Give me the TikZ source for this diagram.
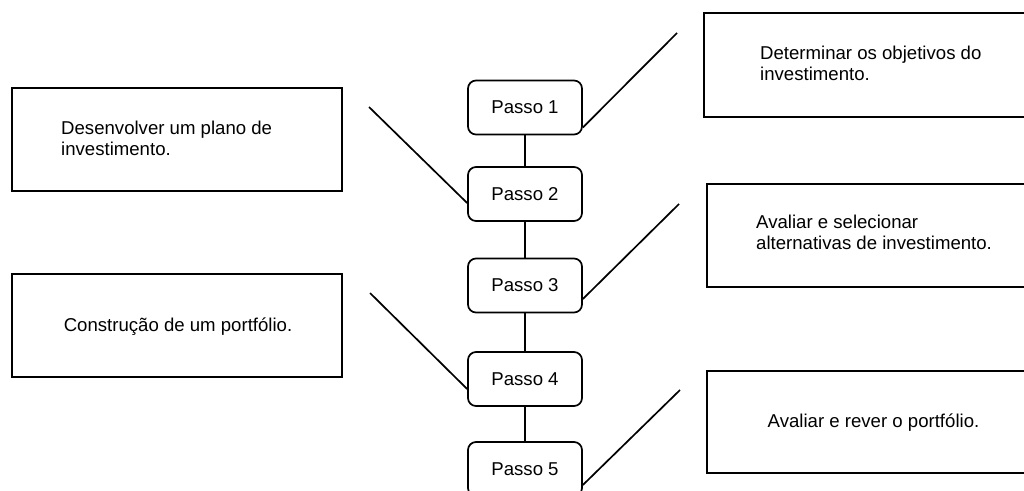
\documentclass[tikz,border=0pt]{standalone}
\usepackage{fontspec}
\setmainfont{Liberation Sans}
\usetikzlibrary{calc}
\tikzset{
  stepbox/.style={draw=black, line width=1.7pt, rounded corners=8pt, minimum width=114pt, minimum height=54pt, inner sep=0pt, font=\fontsize{18.6}{21.5}\selectfont},
  infobox/.style={draw=black, line width=1.9pt, inner sep=0pt},
  infotext/.style={inner sep=0pt, anchor=base west, font=\fontsize{18.6}{21.5}\selectfont},
  centertext/.style={inner sep=0pt, anchor=base, font=\fontsize{18.6}{21.5}\selectfont},
  link/.style={draw=black, line width=1.7pt},
}
\begin{document}
\begin{tikzpicture}[x=1pt,y=-1pt]
\useasboundingbox (0,0) rectangle (1024,490);
\clip (0,0) rectangle (1024,490);
\fill[white] (0,0) rectangle (1024,490);
% left boxes
\node[infobox, minimum width=330pt, minimum height=103pt] (l1) at (177,139.5) {};
\node[infobox, minimum width=330pt, minimum height=103pt] (l2) at (177,325.5) {};
% right boxes
\node[infobox, minimum width=336pt, minimum height=104pt] (r1) at (872,65) {};
\node[infobox, minimum width=333pt, minimum height=103pt] (r2) at (873.5,235.5) {};
\node[infobox, minimum width=333pt, minimum height=102pt] (r3) at (873.5,422) {};
% texts
\node[infotext] (t1a) at (61,134) {Desenvolver um plano de};
\node[infotext] (t1b) at (61,155) {investimento.};
\node[centertext] (t2) at (178,331.5) {Construção de um portfólio.};
\node[infotext] (t3a) at (760,59) {Determinar os objetivos do};
\node[infotext] (t3b) at (760,80) {investimento.};
\node[infotext] (t4a) at (756,228) {Avaliar e selecionar};
\node[infotext] (t4b) at (756,249) {alternativas de investimento.};
\node[centertext] (t5) at (873.5,427) {Avaliar e rever o portfólio.};
% steps
\node[stepbox] (p1) at (525,107.5) {Passo 1};
\node[stepbox] (p2) at (525,194) {Passo 2};
\node[stepbox] (p3) at (525,285.5) {Passo 3};
\node[stepbox] (p4) at (525,379) {Passo 4};
\node[stepbox] (p5) at (525,469) {Passo 5};
\draw[link] (p1) -- (p2);
\draw[link] (p2) -- (p3);
\draw[link] (p3) -- (p4);
\draw[link] (p4) -- (p5);
% free ends
\coordinate (e1) at (677,33);
\coordinate (e2) at (369,107);
\coordinate (e3) at (679,204);
\coordinate (e4) at (370,293);
\coordinate (e5) at (680,390);
\draw[link] ($(p1.east)+(0,20)$) -- (e1);
\draw[link] ($(p2.west)+(0,9)$) -- (e2);
\draw[link] ($(p3.east)+(0,13.5)$) -- (e3);
\draw[link] ($(p4.west)+(0,10)$) -- (e4);
\draw[link] ($(p5.east)+(0,16)$) -- (e5);
\end{tikzpicture}
\end{document}
